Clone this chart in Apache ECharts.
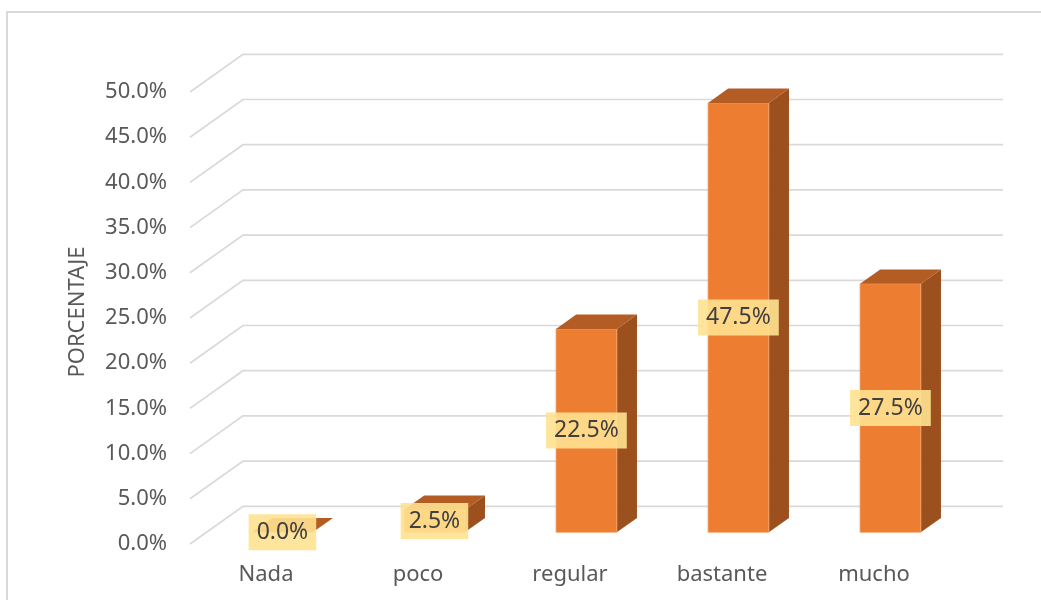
<!DOCTYPE html>
<html>
<head>
<meta charset="utf-8">
<title>PORCENTAJE</title>
<script src="https://cdn.jsdelivr.net/npm/echarts@6/dist/echarts.min.js"></script>
<style>
  html, body { margin: 0; padding: 0; background: #ffffff; }
  #chart { width: 1041px; height: 600px; }
</style>
</head>
<body>
<div id="chart"></div>
<script>
// Categories and their share of responses (percent)
const categories = ['Nada', 'poco', 'regular', 'bastante', 'mucho'];
const porcentaje = [0.0, 2.5, 22.5, 47.5, 27.5];
// Value-axis ticks (percent)
const ticks = [0, 5, 10, 15, 20, 25, 30, 35, 40, 45, 50];

const FONT = '"Noto Sans", "Open Sans", sans-serif';

// Depth of the 3D floor, as a screen offset from the front plane to the back wall
const DEPTH = [53, -37.7];
// Bars occupy the middle slice of the depth
const BAR_FRONT = 0.31;
const BAR_DEPTH = 0.38;
const BAR_WIDTH = 0.4; // share of the category band

const chart = echarts.init(document.getElementById('chart'));

function renderGridLine(params, api) {
  const cs = params.coordSys;
  const y = api.coord([0, api.value(1)])[1];
  return {
    type: 'polyline',
    silent: true,
    shape: {
      points: [
        [cs.x, y],
        [cs.x + DEPTH[0], y + DEPTH[1]],
        [cs.x + cs.width + DEPTH[0], y + DEPTH[1]]
      ]
    },
    style: { stroke: '#d9d9d9', lineWidth: 1.7, fill: null }
  };
}

function renderBar(params, api) {
  const idx = api.value(0);
  const val = api.value(1);
  const base = api.coord([idx, 0]);
  const top = api.coord([idx, val]);
  const band = api.size([1, 0])[0];
  const w = band * BAR_WIDTH;
  const ox = DEPTH[0] * BAR_FRONT, oy = DEPTH[1] * BAR_FRONT;
  const dx = DEPTH[0] * BAR_DEPTH, dy = DEPTH[1] * BAR_DEPTH;
  const xl = base[0] - w / 2 + ox;
  const xr = base[0] + w / 2 + ox;
  const yb = base[1] + oy;
  const yt = top[1] + oy;
  const children = [];
  if (yb - yt > 0.5) {
    children.push({
      type: 'polygon',
      shape: { points: [[xr, yb], [xr, yt], [xr + dx, yt + dy], [xr + dx, yb + dy]] },
      style: { fill: '#9c501e' }
    });
    children.push({
      type: 'rect',
      shape: { x: xl, y: yt, width: w, height: yb - yt },
      style: { fill: '#ed7d31', stroke: '#f3a46e', lineWidth: 0.8 }
    });
  }
  children.push({
    type: 'polygon',
    shape: { points: [[xl, yt], [xr, yt], [xr + dx, yt + dy], [xl + dx, yt + dy]] },
    style: { fill: '#b35c24' }
  });
  children.push({
    type: 'text',
    z2: 100,
    style: {
      text: val.toFixed(1) + '%',
      x: (xl + xr) / 2,
      y: (yt + yb) / 2,
      align: 'center',
      verticalAlign: 'middle',
      font: '23px ' + FONT,
      fill: '#404040',
      backgroundColor: 'rgba(255, 226, 145, 0.9)',
      padding: [7, 8, 6, 8]
    }
  });
  return { type: 'group', children: children };
}

const option = {
  backgroundColor: '#ffffff',
  animation: false,
  graphic: [{
    type: 'rect',
    silent: true,
    shape: { x: 7, y: 12, width: 1200, height: 800 },
    style: { fill: null, stroke: '#d9d9d9', lineWidth: 2 }
  }],
  grid: { left: 190, right: 91, top: 92, bottom: 56 },
  xAxis: {
    type: 'category',
    data: categories,
    axisLine: { show: false },
    axisTick: { show: false },
    axisLabel: { color: '#595959', fontSize: 22, fontFamily: FONT, margin: 20 }
  },
  yAxis: {
    type: 'value',
    min: 0,
    max: 50,
    interval: 5,
    name: 'PORCENTAJE',
    nameLocation: 'middle',
    nameRotate: 90,
    nameGap: 101,
    nameTextStyle: {
      color: '#595959', fontSize: 22, fontFamily: FONT,
      padding: [0, 0, 0, 12]
    },
    axisLine: { show: false },
    axisTick: { show: false },
    splitLine: { show: false },
    axisLabel: {
      color: '#595959', fontSize: 22, fontFamily: FONT, margin: 23,
      formatter: v => v.toFixed(1) + '%'
    }
  },
  series: [
    {
      type: 'custom',
      z: 1,
      renderItem: renderGridLine,
      data: ticks.map(t => [0, t]),
      encode: { x: 0, y: 1 },
      silent: true
    },
    {
      type: 'custom',
      z: 2,
      renderItem: renderBar,
      data: porcentaje.map((v, i) => [i, v]),
      encode: { x: 0, y: 1 }
    }
  ]
};

chart.setOption(option);
</script>
</body>
</html>
